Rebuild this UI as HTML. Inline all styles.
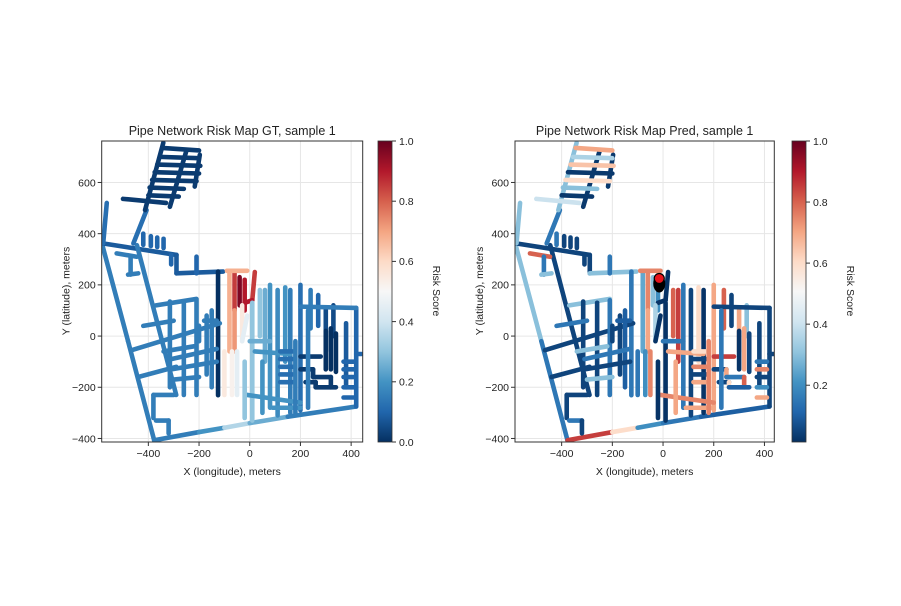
<!DOCTYPE html>
<html><head><meta charset="utf-8"><style>
body{margin:0;background:#fff}
svg text{font-family:"Liberation Sans","DejaVu Sans",sans-serif;fill:#222}
</style></head><body>
<svg id="fig" width="901" height="601" viewBox="0 0 901 601" xmlns="http://www.w3.org/2000/svg">
<defs>
<linearGradient id="cm" x1="0" y1="1" x2="0" y2="0">
<stop offset="0" stop-color="#053061"/><stop offset="0.1" stop-color="#2166ac"/><stop offset="0.2" stop-color="#4393c3"/><stop offset="0.3" stop-color="#92c5de"/><stop offset="0.4" stop-color="#d1e5f0"/><stop offset="0.5" stop-color="#f7f7f7"/><stop offset="0.6" stop-color="#fddbc7"/><stop offset="0.7" stop-color="#f4a582"/><stop offset="0.8" stop-color="#d6604d"/><stop offset="0.9" stop-color="#b2182b"/><stop offset="1" stop-color="#67001f"/>
</linearGradient>
<clipPath id="cl"><rect x="101.7" y="141" width="261" height="301"/></clipPath>
<clipPath id="cr"><rect x="515" y="141" width="259.3" height="301"/></clipPath>
</defs>
</svg>
<script>
// segments in data coordinates (meters): x1,y1,x2,y2
const segX1=[-580,-480,-377,-200,-100,0,150,420,-580,-289,-289,-125,-445,-407,-564,-341,-249,-197,-345,-355,-365,-375,-385,-395,-400,-500,-420,-390,-365,-340,-210,-310,-525,-470,-480,-466,-370,-315,-260,-210,-170,-150,-310,-310,-300,-380,-380,-370,-320,-180,-200,-80,-60,-40,-20,-90,20,10,-60,-30,-10,-70,-50,-100,10,40,60,80,110,140,160,200,240,270,300,330,380,0,20,-10,90,120,120,120,120,120,200,300,320,340,200,250,250,320,220,260,260,370,370,370,370,370,200,420,230,50,-20,-440,-420,-340,180];
const segY1=[350,-20,-407,-375,-358,-340,-315,-275,362,317,245,252,355,492,520,755,727,708,735,700,670,640,610,580,550,536,356,352,348,344,245,317,323,310,240,-55,120,135,130,140,80,100,-90,-130,-170,-230,-230,-330,-330,60,40,255,255,230,220,255,250,140,100,120,80,-60,-60,-60,130,180,180,200,180,190,180,200,180,160,110,120,50,-20,-60,-230,-280,-60,-90,-120,-150,-180,-80,20,30,10,-130,-130,-160,-160,-180,-180,-200,-100,-130,-160,-200,-240,115,-70,100,-100,-100,-160,40,-60,-20];
const segX2=[-480,-377,-200,-100,0,150,420,420,-289,-289,-105,-125,-290,-459,-578,-413,-315,-217,-200,-200,-195,-200,-210,-260,-280,-330,-420,-390,-365,-340,-210,-310,-446,-470,-440,-118,-210,-315,-260,-210,-170,-150,-130,-130,-200,-300,-380,-320,-320,-130,-200,-80,-60,-40,-20,-10,10,-20,-60,-30,-30,-70,-50,-100,10,40,60,80,110,140,160,200,240,270,300,330,380,80,160,200,200,170,170,170,170,170,280,300,320,340,250,250,320,320,260,260,340,410,410,410,410,410,420,440,230,50,-20,-290,-300,-220,180];
const segY2=[-20,-407,-375,-358,-340,-315,-275,110,317,245,252,-231,-230,362,363,492,505,584,725,695,665,635,605,575,545,520,400,390,385,380,310,280,310,240,245,50,145,-200,-230,-230,-150,-200,-50,-100,-160,-230,-320,-330,-380,60,-20,-60,100,120,100,255,140,130,-60,-20,-20,-230,-230,-230,-330,0,-100,-280,-310,-100,-300,-290,30,40,-60,0,-200,-20,-70,-260,-280,-60,-90,-120,-150,-180,-80,-130,-130,-140,-130,-160,-160,-200,-180,-200,-200,-100,-130,-160,-200,-240,110,-70,-280,-300,-320,-120,60,-40,-300];
const gtVal=[.15,.15,.15,.2,.35,.25,.15,.1,.08,.08,.08,0,.15,.12,.12,.02,.02,.02,.02,.02,.02,.02,.02,.02,.02,.02,.1,.1,.1,.1,.1,.1,.15,.15,.15,.15,.15,.15,.15,.15,.15,.15,.15,.15,.15,.15,.15,.15,.15,.15,.15,.68,.85,.97,.9,.68,.85,.9,.72,.55,.45,.52,.45,.55,.3,.3,.25,.2,.18,.2,.15,.12,.15,.1,.05,.05,.08,.25,.2,.2,.2,.12,.12,.12,.12,.12,.02,0,0,0,.02,.02,.02,.02,.02,.02,.02,.1,.1,.1,.1,.1,.15,.1,.15,.2,.3,.15,.15,.15,.15];
const prVal=[.3,.15,.85,.6,.2,.15,.1,.05,.05,.05,.3,.15,.05,.15,.3,.3,.03,.03,.7,.35,.65,.03,.6,.3,.03,.4,.15,.05,.05,.05,.15,.05,.8,.15,.3,.05,.3,.05,.05,.15,.05,.1,.15,.05,.3,.05,.05,.15,.05,.1,.05,.25,.75,.3,.2,.75,.02,.02,.7,.35,.02,.2,.75,.15,.02,.8,.85,.15,.05,.6,.02,.7,.8,.05,.7,.3,.05,.15,.7,.75,.7,.6,.05,.75,.05,.7,.85,.02,.7,.05,.05,.7,.15,.8,.05,.6,.1,.15,.75,.05,.2,.7,.05,.05,.15,.7,.02,.05,.15,.3,.75];
const xTicks=[-400,-200,0,200,400];
const yTicks=[-400,-200,0,200,400,600];
const cbTicksL=[0,0.2,0.4,0.6,0.8,1.0];
const cbTicksR=[0.2,0.4,0.6,0.8,1.0];
const markerX=[-15], markerY=[225];

const NS="http://www.w3.org/2000/svg";
const svg=document.getElementById('fig');
const stops=[[5,48,97],[33,102,172],[67,147,195],[146,197,222],[209,229,240],[247,247,247],[253,219,199],[244,165,130],[214,96,77],[178,24,43],[103,0,31]];
function cmap(t){t=Math.max(0,Math.min(1,t));const f=t*10,i=Math.min(9,Math.floor(f)),r=f-i,a=stops[i],b=stops[i+1];
return 'rgb('+a.map((v,k)=>Math.round(v+(b[k]-v)*r)).join(',')+')';}
function mk(tag,at,txt){const e=document.createElementNS(NS,tag);for(const k in at)e.setAttribute(k,at[k]);if(txt!==undefined)e.textContent=txt;svg.appendChild(e);return e;}

function panel(o){
  const sx=x=>o.x0+(x+584)*0.2535, sy=y=>141+(762-y)*0.2560;
  xTicks.forEach(t=>{const g=mk('line',{x1:sx(t),x2:sx(t),y1:141,y2:442,stroke:'#e6e6e6','stroke-width':1});
    
    });
  yTicks.forEach(t=>{const g=mk('line',{x1:o.x0,x2:o.x1,y1:sy(t),y2:sy(t),stroke:'#e6e6e6','stroke-width':1});
    
    });
  const gg=mk('g',{'clip-path':'url(#'+o.clip+')'});
  
  
  for(let i=0;i<segX1.length;i++){
    const v=o.vals[i];
    const l=document.createElementNS(NS,'line');
    l.setAttribute('x1',sx(segX1[i]));l.setAttribute('y1',sy(segY1[i]));
    l.setAttribute('x2',sx(segX2[i]));l.setAttribute('y2',sy(segY2[i]));
    l.setAttribute('stroke',cmap((v-o.vmin)/(1-o.vmin)));
    l.setAttribute('stroke-width',o.sw);l.setAttribute('stroke-linecap','round');
    
    
    gg.appendChild(l);
  }
  if(o.marker){
    markerX.forEach((mx,i)=>{
      const b=mk('ellipse',{cx:sx(mx),cy:sy(markerY[i])+5,rx:6,ry:9,fill:'#000'});
      
      
      const c=mk('circle',{cx:sx(mx),cy:sy(markerY[i]),r:5,fill:'#e8141c',stroke:'#000','stroke-width':1.2});
      
      
    });
  }
  const fr=mk('rect',{x:o.x0,y:141,width:o.x1-o.x0,height:301,fill:'none',stroke:'#333','stroke-width':1});
  
  
  xTicks.forEach(t=>{mk('line',{x1:sx(t),x2:sx(t),y1:442,y2:446,stroke:'#333'});
    const e=mk('text',{x:sx(t),y:457,'font-size':10.5,'text-anchor':'middle'},t<0?'\u2212'+(-t):t);
    
    });
  yTicks.forEach(t=>{mk('line',{x1:o.x0-4,x2:o.x0,y1:sy(t),y2:sy(t),stroke:'#333'});
    const e=mk('text',{x:o.x0-6,y:sy(t)+3.8,'font-size':10.5,'text-anchor':'end'},t<0?'\u2212'+(-t):t);
    
    });
  const ti=mk('text',{x:(o.x0+o.x1)/2,y:135,'font-size':12.5,'text-anchor':'middle'},o.title);
  
  
  const xl=mk('text',{x:(o.x0+o.x1)/2,y:475,'font-size':10.5,'text-anchor':'middle'},'X (longitude), meters');
  
  
  const yx=o.x0-32;
  const yl=mk('text',{x:yx,y:291,'font-size':10.5,'text-anchor':'middle',transform:'rotate(-90 '+yx+' 291)'},'Y (latitude), meters');
  
  
  const cb=mk('rect',{x:o.cb,y:141,width:14,height:301,fill:'url(#cm)',stroke:'#333','stroke-width':0.8});
  
  
  o.cbt.forEach(t=>{const y=442-(t-o.vmin)/(1-o.vmin)*301;
    mk('line',{x1:o.cb+14,x2:o.cb+18,y1:y,y2:y,stroke:'#333'});
    const e=mk('text',{x:o.cb+21,y:y+3.8,'font-size':10.5},t.toFixed(1));
    
    });
  const rx=o.cb+55;
  const rl=mk('text',{x:rx,y:291,'font-size':10.5,'text-anchor':'middle',transform:'rotate(90 '+rx+' 291)'},'Risk Score');
  
  
}
panel({x0:101.7,x1:362.7,clip:'cl',vals:gtVal,vmin:0,sw:4.6,title:'Pipe Network Risk Map GT, sample 1',cb:378,cbt:cbTicksL,marker:false});
panel({x0:515,x1:774.3,clip:'cr',vals:prVal,vmin:0.014,sw:4.6,title:'Pipe Network Risk Map Pred, sample 1',cb:792,cbt:cbTicksR,marker:true});
</script>
</body></html>
